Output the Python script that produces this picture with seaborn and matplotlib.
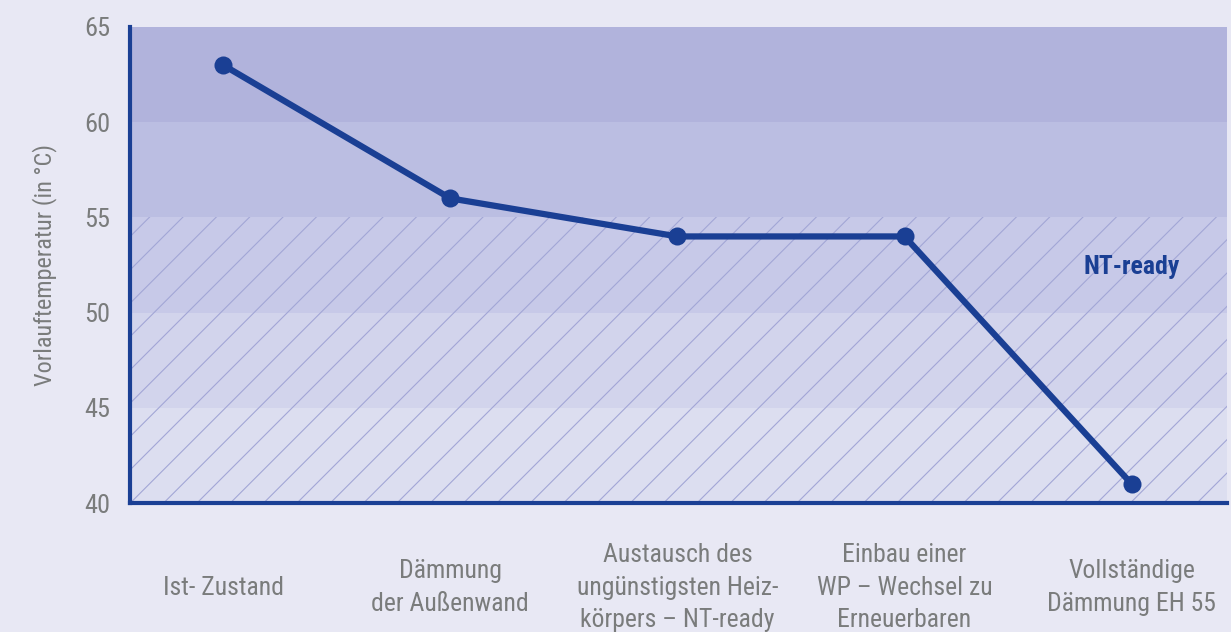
import matplotlib
matplotlib.use("Agg")
import matplotlib.pyplot as plt
import seaborn as sns
import pandas as pd

categories = [
    "Ist- Zustand",
    "Dämmung\nder Außenwand",
    "Austausch des\nungünstigsten Heiz-\nkörpers – NT-ready",
    "Einbau einer\nWP – Wechsel zu\nErneuerbaren",
    "Vollständige\nDämmung EH 55",
]
temps = [63, 56, 54, 54, 41]
y_ticks = [40, 45, 50, 55, 60, 65]
band_edges = [40, 45, 50, 55, 60, 65]
band_colors = ["#dcdef0", "#d2d4ec", "#c7c9e8", "#bbbee2", "#b1b3dc"]
hatch_from, hatch_to = 40, 55
annotation = "NT-ready"
y_label = "Vorlauftemperatur (in °C)"

sns.set_theme(style="white")
plt.rcParams["font.family"] = ["Liberation Sans Narrow", "Roboto Condensed", "DejaVu Sans"]
plt.rcParams["hatch.color"] = "#a2a6d6"
plt.rcParams["hatch.linewidth"] = 0.8

bg = "#e8e8f4"
line_c = "#1a3f94"
txt_c = "#7a7c7c"

fig = plt.figure(figsize=(12.31, 6.32), dpi=100)
fig.patch.set_facecolor(bg)
ax = fig.add_axes([0.1056, 0.2041, 0.8912, 0.7532])
ax.set_facecolor(bg)

for lo, hi, c in zip(band_edges[:-1], band_edges[1:], band_colors):
    ax.axhspan(lo, hi, color=c, lw=0, zorder=0)
ax.axhspan(hatch_from, hatch_to, facecolor="none", edgecolor="#a2a6d6",
           hatch="/", lw=0, zorder=0.5)

df = pd.DataFrame({"x": range(len(categories)), "t": temps})
sns.lineplot(data=df, x="x", y="t", ax=ax, color=line_c, lw=4.5,
             marker="o", markersize=13, markeredgewidth=0, zorder=3)

ax.set_xlim(-0.41, 4.42)
ax.set_ylim(40, 65)
ax.set_yticks(y_ticks)
ax.set_xticks(range(len(categories)))
ax.set_xticklabels(categories, fontsize=18.5, color=txt_c, va="center",
                   linespacing=1.45, multialignment="center")
ax.tick_params(axis="x", length=0, pad=61)
ax.tick_params(axis="y", length=0, pad=14, labelsize=19, labelcolor=txt_c)
ax.set_xlabel("")
ax.set_ylabel(y_label, fontsize=17.5, color=txt_c, labelpad=20)

for s in ["top", "right"]:
    ax.spines[s].set_visible(False)
for s in ["left", "bottom"]:
    ax.spines[s].set_color(line_c)
    ax.spines[s].set_linewidth(3)
    ax.spines[s].set_zorder(4)

ax.text(4.0, 52.4, annotation, fontsize=18.5, fontweight="bold", color=line_c,
        ha="center", va="center", zorder=5)

fig.savefig("out.png", dpi=100, facecolor=bg)
